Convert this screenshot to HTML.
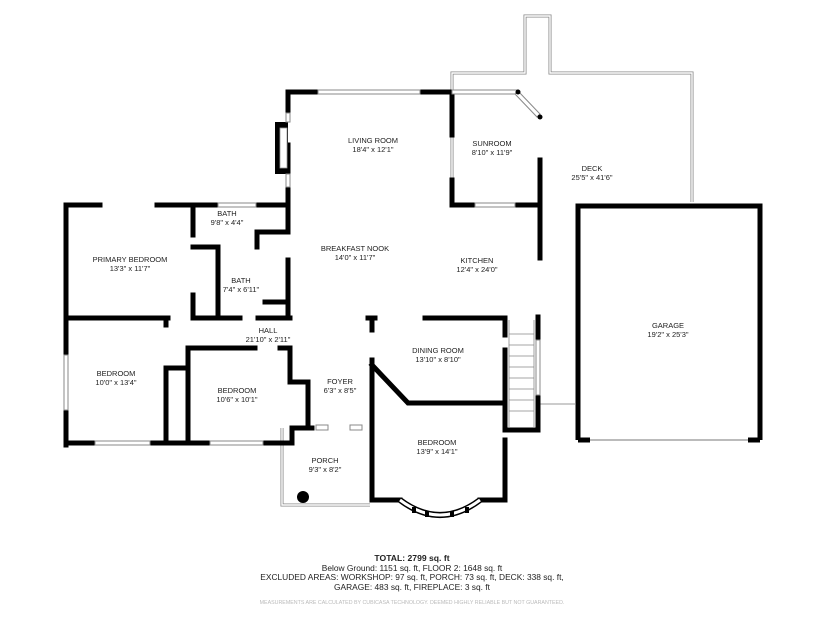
<!DOCTYPE html>
<html><head><style>
html,body{margin:0;padding:0;background:#fff;}
svg{display:block;}
text{font-family:"Liberation Sans",sans-serif;fill:#222;text-anchor:middle;}
.l{font-size:7.5px;}
</style></head><body>
<svg width="825" height="619" viewBox="0 0 825 619" xmlns="http://www.w3.org/2000/svg">
<g fill="none" stroke="#888" stroke-width="3">
<path d="M452 180 L452 73 L525 73 L525 16 L550 16 L550 73 L692 73 L692 202"/>
<path d="M282 428 L282 505 L370 505"/>
</g>
<g fill="none" stroke="#fff" stroke-width="1.4">
<path d="M452 180 L452 73 L525 73 L525 16 L550 16 L550 73 L692 73 L692 202"/>
<path d="M282 428 L282 505 L370 505"/>
</g>
<line x1="540" y1="404" x2="575" y2="404" stroke="#999" stroke-width="1"/>
<g fill="none" stroke="#000" stroke-width="5" stroke-linecap="square">
<path d="M288 205 L288 145"/>
<path d="M288 113 L288 92 L318 92"/>
<path d="M420 92 L452 92"/>
<path d="M452 92 L452 135"/>
<path d="M452 180 L452 205 L475 205"/>
<path d="M515 205 L540 205 L540 160"/>
<path d="M540 210 L540 258"/>
<path d="M66 445 L66 205 L100 205"/>
<path d="M157 205 L218 205"/>
<path d="M256 205 L288 205 L288 230"/>
<path d="M193 210 L193 235"/>
<path d="M193 295 L193 318"/>
<path d="M193 247 L218 247 L218 318"/>
<path d="M257 247 L257 232 L288 232"/>
<path d="M288 260 L288 318"/>
<path d="M265 302 L288 302"/>
<path d="M66 318 L168 318"/>
<path d="M193 318 L240 318"/>
<path d="M258 318 L290 318"/>
<path d="M166 318 L166 325"/>
<path d="M166 370 L166 443"/>
<path d="M166 368 L186 368"/>
<path d="M188 443 L188 348 L255 348"/>
<path d="M280 348 L290 348 L290 382 L308 382"/>
<path d="M66 443 L95 443"/>
<path d="M150 443 L210 443"/>
<path d="M263 443 L292 443 L292 428 L312 428"/>
<path d="M308 382 L308 428"/>
<path d="M368 318 L375 318"/>
<path d="M425 318 L505 318 L505 335"/>
<path d="M505 350 L505 430 L538 430 L538 317"/>
<path d="M372 318 L372 330"/>
<path d="M372 360 L372 500 L400 500"/>
<path d="M480 500 L505 500 L505 440"/>
<path d="M372 365 L408 403 L505 403"/>
</g>
<rect x="275" y="122" width="13" height="52" fill="#000"/>
<rect x="280" y="128" width="7" height="40" fill="#fff" stroke="#999" stroke-width="0.8"/>
<g fill="#fff" stroke="#888" stroke-width="1">
<rect x="318" y="90" width="102" height="4"/>
<rect x="452" y="90" width="66" height="4"/>
<polygon points="518,91 540,114 537,117 515,94"/>
<rect x="475" y="203" width="40" height="4"/>
<rect x="218" y="203" width="38" height="4"/>
<rect x="95" y="441" width="55" height="4"/>
<rect x="210" y="441" width="53" height="4"/>
<rect x="64" y="355" width="4" height="55"/>
<rect x="536" y="340" width="4" height="55"/>
<rect x="286" y="113" width="4" height="9"/>
<rect x="286" y="174" width="4" height="13"/>
<rect x="316" y="425" width="12" height="5"/>
<rect x="350" y="425" width="12" height="5"/>
</g>
<circle cx="518" cy="92" r="2.5" fill="#000"/><circle cx="540" cy="117" r="2.5" fill="#000"/>
<path d="M400 500 Q440 530 480 500" fill="none" stroke="#000" stroke-width="6"/>
<path d="M400 500 Q440 530 480 500" fill="none" stroke="#fff" stroke-width="3"/>
<g fill="#000"><rect x="412" y="507" width="4" height="6"/><rect x="425" y="511" width="4" height="6"/><rect x="450" y="511" width="4" height="6"/><rect x="465" y="507" width="4" height="6"/></g>
<g stroke="#888" stroke-width="0.8">
<line x1="509" y1="320" x2="509" y2="428"/><line x1="534" y1="320" x2="534" y2="428"/>
<line x1="509" y1="334" x2="534" y2="334"/><line x1="509" y1="345" x2="534" y2="345"/>
<line x1="509" y1="356" x2="534" y2="356"/><line x1="509" y1="367" x2="534" y2="367"/>
<line x1="509" y1="378" x2="534" y2="378"/><line x1="509" y1="389" x2="534" y2="389"/>
<line x1="509" y1="400" x2="534" y2="400"/><line x1="509" y1="411" x2="534" y2="411"/>
</g>
<path d="M578 440 L578 206 L760 206 L760 440" fill="none" stroke="#000" stroke-width="5"/>
<path d="M578 440 L590 440 M748 440 L760 440" stroke="#000" stroke-width="5"/>
<line x1="590" y1="440" x2="748" y2="440" stroke="#bbb" stroke-width="2"/>
<circle cx="303" cy="497" r="6" fill="#000"/>
<text class="l" x="373" y="143">LIVING ROOM</text><text class="l" x="373" y="152">18'4" x 12'1"</text>
<text class="l" x="492" y="146">SUNROOM</text><text class="l" x="492" y="155">8'10" x 11'9"</text>
<text class="l" x="592" y="171">DECK</text><text class="l" x="592" y="180">25'5" x 41'6"</text>
<text class="l" x="227" y="216">BATH</text><text class="l" x="227" y="225">9'8" x 4'4"</text>
<text class="l" x="130" y="262">PRIMARY BEDROOM</text><text class="l" x="130" y="271">13'3" x 11'7"</text>
<text class="l" x="355" y="251">BREAKFAST NOOK</text><text class="l" x="355" y="260">14'0" x 11'7"</text>
<text class="l" x="477" y="263">KITCHEN</text><text class="l" x="477" y="272">12'4" x 24'0"</text>
<text class="l" x="241" y="283">BATH</text><text class="l" x="241" y="292">7'4" x 6'11"</text>
<text class="l" x="668" y="328">GARAGE</text><text class="l" x="668" y="337">19'2" x 25'3"</text>
<text class="l" x="268" y="333">HALL</text><text class="l" x="268" y="342">21'10" x 2'11"</text>
<text class="l" x="438" y="353">DINING ROOM</text><text class="l" x="438" y="362">13'10" x 8'10"</text>
<text class="l" x="116" y="376">BEDROOM</text><text class="l" x="116" y="385">10'0" x 13'4"</text>
<text class="l" x="237" y="393">BEDROOM</text><text class="l" x="237" y="402">10'6" x 10'1"</text>
<text class="l" x="340" y="384">FOYER</text><text class="l" x="340" y="393">6'3" x 8'5"</text>
<text class="l" x="437" y="445">BEDROOM</text><text class="l" x="437" y="454">13'9" x 14'1"</text>
<text class="l" x="325" y="463">PORCH</text><text class="l" x="325" y="472">9'3" x 8'2"</text>
<text x="412" y="561" style="font-size:8.6px;font-weight:bold">TOTAL: 2799 sq. ft</text>
<text x="412" y="571" style="font-size:8.4px">Below Ground: 1151 sq. ft, FLOOR 2: 1648 sq. ft</text>
<text x="412" y="580" style="font-size:8.4px">EXCLUDED AREAS: WORKSHOP: 97 sq. ft, PORCH: 73 sq. ft, DECK: 338 sq. ft,</text>
<text x="412" y="590" style="font-size:8.4px">GARAGE: 483 sq. ft, FIREPLACE: 3 sq. ft</text>
<text x="412" y="604" style="font-size:5.3px;fill:#bbb">MEASUREMENTS ARE CALCULATED BY CUBICASA TECHNOLOGY. DEEMED HIGHLY RELIABLE BUT NOT GUARANTEED.</text>
</svg>
</body></html>
